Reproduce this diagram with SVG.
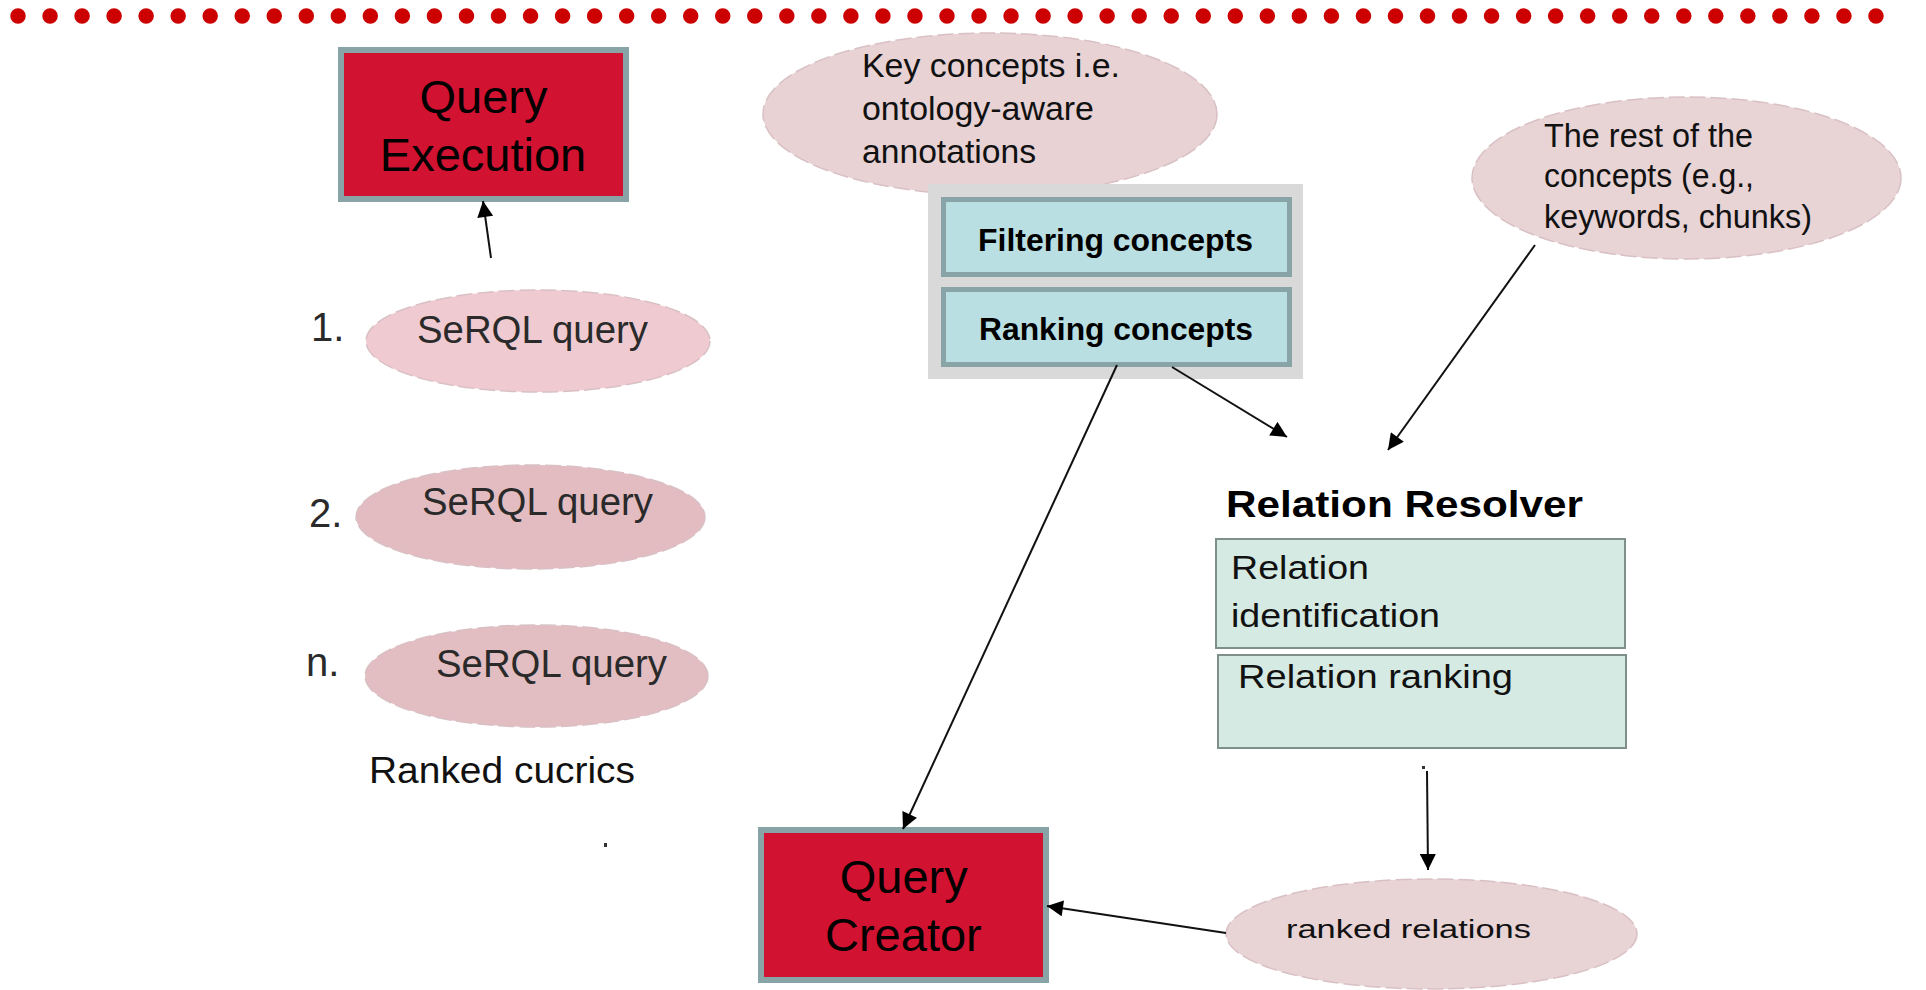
<svg xmlns="http://www.w3.org/2000/svg" width="1926" height="990" viewBox="0 0 1926 990">
<defs>
<style>
text{font-family:"Liberation Sans",Arial,sans-serif;fill:#111}
.red{fill:#D21231;stroke:#88A4A6;stroke-width:6}
.cyan{fill:#BADFE2;stroke:#88A4A6;stroke-width:5}
.mint{fill:#D5EAE3;stroke:#7F8F8C;stroke-width:2}
.big{font-size:47px;text-anchor:middle;fill:#000}
.bold{font-weight:bold;fill:#000}
.ell{stroke:#D8C0C4;stroke-width:1.5;stroke-dasharray:16 5}
.conn{stroke:#111;stroke-width:2;fill:none;marker-end:url(#ah)}
.q{font-size:38px;fill:#2a2a2a}
.num{font-size:40px;fill:#2a2a2a}
.t33{font-size:33px}
</style>
<marker id="ah" viewBox="0 0 10 10" refX="10" refY="5" markerWidth="17" markerHeight="16" markerUnits="userSpaceOnUse" orient="auto">
<path d="M0,0 L10,5 L0,10 z" fill="#000"/>
</marker>
</defs>
<rect width="1926" height="990" fill="#fff"/>
<line x1="18" y1="16" x2="1908" y2="16" stroke="#CC0000" stroke-width="15.5" stroke-linecap="round" stroke-dasharray="0 32.034"/>

<g id="query-execution">
<rect class="red" x="341" y="50" width="285" height="149"/>
<text class="big" x="483.5" y="113">Query</text>
<text class="big" x="483" y="171">Execution</text>
</g>

<g id="key-concepts">
<ellipse class="ell" cx="990" cy="114" rx="227" ry="81" fill="#E8D2D4"/>
<text class="t33" x="862" y="77" textLength="258" lengthAdjust="spacingAndGlyphs">Key concepts i.e.</text>
<text class="t33" x="862" y="120" textLength="232" lengthAdjust="spacingAndGlyphs">ontology-aware</text>
<text class="t33" x="862" y="163" textLength="174" lengthAdjust="spacingAndGlyphs">annotations</text>
</g>

<g id="concepts-container">
<rect x="928" y="184" width="375" height="195" fill="#D9D9D9"/>
</g>
<g id="filtering-concepts">
<rect class="cyan" x="943.5" y="199.5" width="346" height="75"/>
<text class="bold" x="978" y="251" font-size="31" textLength="275" lengthAdjust="spacingAndGlyphs">Filtering concepts</text>
</g>
<g id="ranking-concepts">
<rect class="cyan" x="943.5" y="289.5" width="346" height="75"/>
<text class="bold" x="979" y="340" font-size="31" textLength="274" lengthAdjust="spacingAndGlyphs">Ranking concepts</text>
</g>

<g id="rest-concepts">
<ellipse class="ell" cx="1686.5" cy="178" rx="214.5" ry="81" fill="#E8D3D5"/>
<text class="t33" x="1544" y="147" textLength="209" lengthAdjust="spacingAndGlyphs">The rest of the</text>
<text class="t33" x="1544" y="187" textLength="210" lengthAdjust="spacingAndGlyphs">concepts (e.g.,</text>
<text class="t33" x="1544" y="228" textLength="268" lengthAdjust="spacingAndGlyphs">keywords, chunks)</text>
</g>

<g id="serql-1">
<text class="num" x="311" y="341">1.</text>
<ellipse class="ell" cx="538" cy="341" rx="172" ry="51" fill="#EFCAD0"/>
<text class="q" x="417" y="343" textLength="231" lengthAdjust="spacingAndGlyphs">SeRQL query</text>
</g>
<g id="serql-2">
<text class="num" x="309" y="527">2.</text>
<ellipse class="ell" cx="530.5" cy="517" rx="174.5" ry="52" fill="#E3BCC1"/>
<text class="q" x="422" y="515" textLength="231" lengthAdjust="spacingAndGlyphs">SeRQL query</text>
</g>
<g id="serql-n">
<text class="num" x="306" y="676">n.</text>
<ellipse class="ell" cx="536.5" cy="676" rx="171.5" ry="51" fill="#E2BDC1"/>
<text class="q" x="436" y="677" textLength="231" lengthAdjust="spacingAndGlyphs">SeRQL query</text>
</g>
<g id="ranked-queries-label">
<text x="369" y="783" font-size="36" fill="#2a2a2a" textLength="266" lengthAdjust="spacingAndGlyphs">Ranked cucrics</text>
<rect x="604" y="843" width="3" height="4" fill="#333"/>
</g>

<g id="relation-resolver">
<text class="bold" x="1226" y="517" font-size="36" textLength="357" lengthAdjust="spacingAndGlyphs">Relation Resolver</text>
<rect class="mint" x="1216" y="539" width="409" height="109"/>
<text class="t33" x="1231" y="579" textLength="138" lengthAdjust="spacingAndGlyphs">Relation</text>
<text class="t33" x="1231" y="627" textLength="209" lengthAdjust="spacingAndGlyphs">identification</text>
<rect class="mint" x="1218" y="655" width="408" height="93"/>
<text class="t33" x="1238" y="688" textLength="275" lengthAdjust="spacingAndGlyphs">Relation ranking</text>
</g>

<g id="ranked-relations">
<ellipse class="ell" cx="1431.5" cy="934" rx="205.5" ry="55" fill="#E8D3D5"/>
<text x="1286" y="938" font-size="25" fill="#1a1a1a" textLength="245" lengthAdjust="spacingAndGlyphs">ranked relations</text>
</g>

<g id="query-creator">
<rect class="red" x="761" y="830" width="285" height="150"/>
<text class="big" x="903.7" y="893">Query</text>
<text class="big" x="903.4" y="951">Creator</text>
</g>

<g id="connectors">
<line class="conn" x1="491" y1="258" x2="483" y2="201"/>
<line class="conn" x1="1172" y1="367" x2="1287" y2="437"/>
<line class="conn" x1="1535" y1="245" x2="1388" y2="450"/>
<line class="conn" x1="1117" y1="365" x2="903" y2="829"/>
<line class="conn" x1="1226" y1="933" x2="1047" y2="906"/>
<rect x="1422" y="766" width="3" height="3" fill="#333"/>
<line class="conn" x1="1427" y1="771" x2="1428" y2="870"/>
</g>
</svg>
